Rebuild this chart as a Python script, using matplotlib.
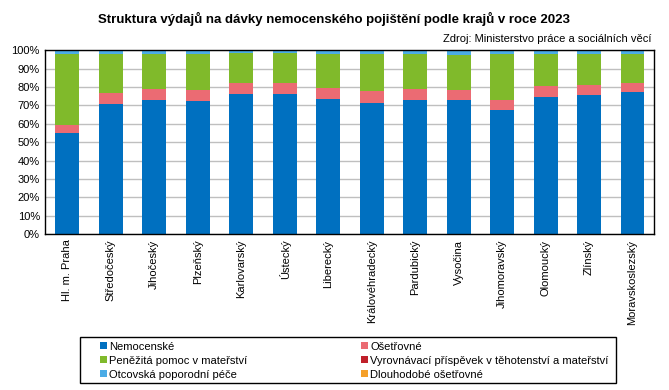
import matplotlib
matplotlib.use("Agg")
import matplotlib.pyplot as plt
from matplotlib.patches import Rectangle
import numpy as np

plt.rcParams['font.family'] = ['Liberation Sans', 'DejaVu Sans']

# kraje
regions = ["Hl. m. Praha", "Středočeský", "Jihočeský", "Plzeňský", "Karlovarský",
           "Ústecký", "Liberecký", "Královéhradecký", "Pardubický", "Vysočina",
           "Jihomoravský", "Olomoucký", "Zlínský", "Moravskoslezský"]

# podíly v %
nemocenske = [55.0, 71.0, 73.0, 72.4, 76.4, 76.4, 73.5, 71.5, 73.0, 73.0, 67.7, 74.6, 75.7, 77.3]
osetrovne = [4.3, 5.8, 6.0, 6.2, 5.8, 5.8, 6.2, 6.4, 5.9, 5.6, 5.4, 6.2, 5.6, 4.9]
materstvi = [38.6, 21.2, 19.2, 19.6, 16.3, 16.3, 18.5, 20.1, 19.3, 18.9, 25.1, 17.4, 16.9, 16.0]
vyrovnavaci = [0.05, 0.05, 0.05, 0.05, 0.05, 0.05, 0.05, 0.05, 0.05, 0.05, 0.05, 0.05, 0.05, 0.05]
otcovska = [1.6, 1.4, 1.4, 1.4, 1.0, 1.0, 1.4, 1.6, 1.4, 2.0, 1.4, 1.4, 1.4, 1.4]
dlouhodobe = [0.45, 0.55, 0.35, 0.35, 0.45, 0.45, 0.35, 0.35, 0.35, 0.45, 0.35, 0.35, 0.35, 0.35]

series = [
    ("Nemocenské", nemocenske, "#0070C0"),
    ("Ošetřovné", osetrovne, "#EB6B73"),
    ("Peněžitá pomoc v mateřství", materstvi, "#80BA2B"),
    ("Vyrovnávací příspěvek v těhotenství a mateřství", vyrovnavaci, "#C0202A"),
    ("Otcovská poporodní péče", otcovska, "#4BACE6"),
    ("Dlouhodobé ošetřovné", dlouhodobe, "#F5A02A"),
]

fig = plt.figure(figsize=(6.69, 3.9), dpi=100)
ax = fig.add_axes([0.068, 0.4, 0.91, 0.471])

x = np.arange(len(regions))
bottom = np.zeros(len(regions))
handles = []
for name, vals, color in series:
    vals = np.array(vals)
    b = ax.bar(x, vals, 0.55, bottom=bottom, color=color, label=name, zorder=3)
    handles.append(b)
    bottom += vals

ax.set_ylim(0, 100)
ax.set_xlim(-0.5, len(regions) - 0.5)
ax.set_yticks(np.arange(0, 101, 10))
ax.set_yticklabels([f"{v}%" for v in range(0, 101, 10)], fontsize=8)
ax.set_xticks(x)
ax.set_xticklabels(regions, rotation=90, fontsize=8, va="top", ha="center")
ax.tick_params(length=0, pad=4)
ax.yaxis.grid(True, color="#BFBFBF", linewidth=1, zorder=0)
for s in ax.spines.values():
    s.set_color("black")
    s.set_linewidth(1)
    s.set_zorder(4)

fig.text(0.5, 0.951, "Struktura výdajů na dávky nemocenského pojištění podle krajů v roce 2023",
         ha="center", va="center", fontsize=9.5, fontweight="bold")
fig.text(0.974, 0.9, "Zdroj: Ministerstvo práce a sociálních věcí",
         ha="right", va="center", fontsize=8)

# legend filled row by row like the original
order = [0, 2, 4, 1, 3, 5]
leg = fig.legend(handles=[handles[i] for i in order],
                 labels=[series[i][0] for i in order], ncol=2,
                 loc="lower left", bbox_to_anchor=(97 / 669, 0.018, 515 / 669, 0.118),
                 mode="expand", fontsize=8, frameon=False,
                 handlelength=0.6, handleheight=0.6,
                 handletextpad=0.2, borderpad=0.3, labelspacing=0.35,
                 borderaxespad=0)
fig.patches.append(Rectangle((80 / 669, 7 / 390), 536 / 669, 46 / 390,
                             transform=fig.transFigure, fill=False,
                             edgecolor="black", linewidth=1))

fig.savefig("out.png", dpi=100)
